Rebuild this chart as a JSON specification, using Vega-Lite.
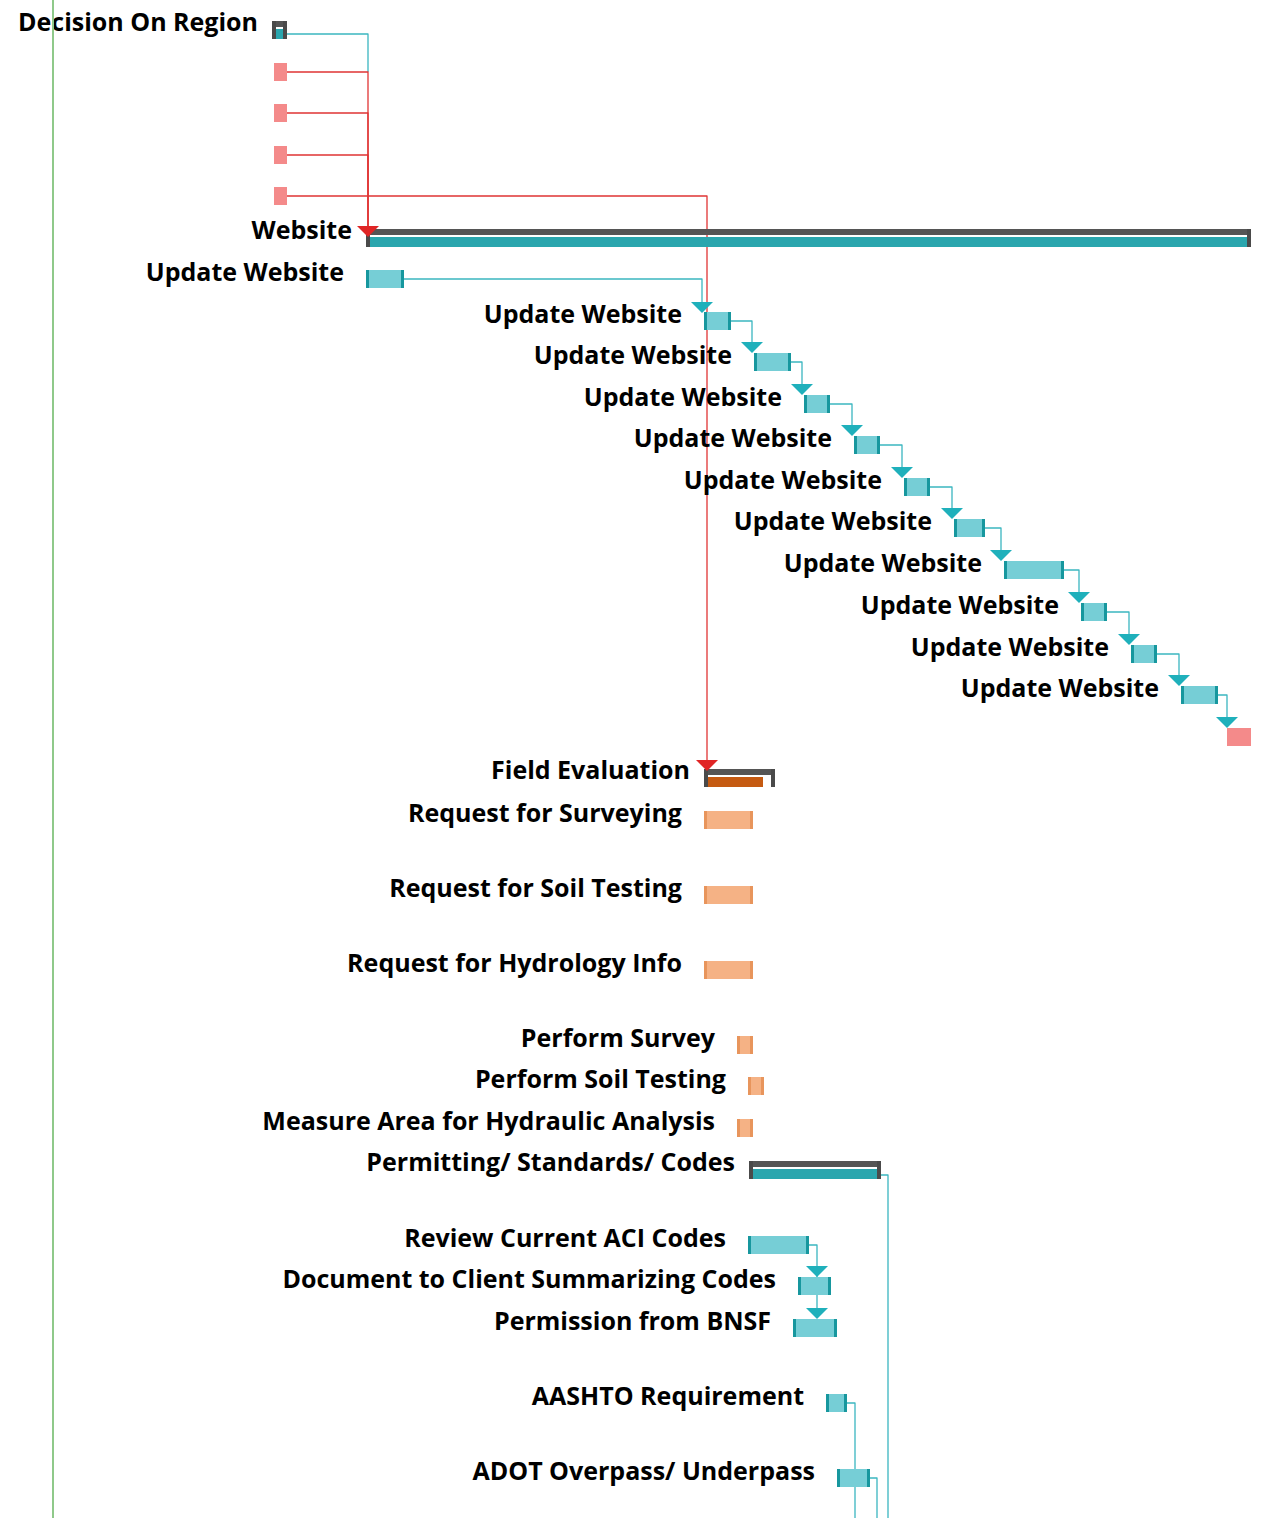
{
  "$schema": "https://vega.github.io/schema/vega-lite/v6.json",
  "width": 1276,
  "height": 1518,
  "autosize": "none",
  "padding": 0,
  "background": "white",
  "config": {"view": {"stroke": null}},
  "resolve": {"scale": {"color": "independent"}},
  "datasets": {
    "tasks": [
      {"name": "Update Website", "start": 366, "end": 404, "y": 279, "group": "teal"},
      {"name": "Update Website", "start": 704, "end": 731, "y": 321, "group": "teal"},
      {"name": "Update Website", "start": 754, "end": 791, "y": 362, "group": "teal"},
      {"name": "Update Website", "start": 804, "end": 830, "y": 404, "group": "teal"},
      {"name": "Update Website", "start": 854, "end": 880, "y": 445, "group": "teal"},
      {"name": "Update Website", "start": 904, "end": 930, "y": 487, "group": "teal"},
      {"name": "Update Website", "start": 954, "end": 985, "y": 528, "group": "teal"},
      {"name": "Update Website", "start": 1004, "end": 1064, "y": 570, "group": "teal"},
      {"name": "Update Website", "start": 1081, "end": 1107, "y": 612, "group": "teal"},
      {"name": "Update Website", "start": 1131, "end": 1157, "y": 654, "group": "teal"},
      {"name": "Update Website", "start": 1181, "end": 1218, "y": 695, "group": "teal"},
      {"name": "Request for Surveying", "start": 704, "end": 753, "y": 820, "group": "orange"},
      {"name": "Request for Soil Testing", "start": 704, "end": 753, "y": 895, "group": "orange"},
      {"name": "Request for Hydrology Info", "start": 704, "end": 753, "y": 970, "group": "orange"},
      {"name": "Perform Survey", "start": 737, "end": 753, "y": 1045, "group": "orange"},
      {"name": "Perform Soil Testing", "start": 748, "end": 764, "y": 1086, "group": "orange"},
      {"name": "Measure Area for Hydraulic Analysis", "start": 737, "end": 753, "y": 1128, "group": "orange"},
      {"name": "Review Current ACI Codes", "start": 748, "end": 809, "y": 1245, "group": "teal"},
      {"name": "Document to Client Summarizing Codes", "start": 798, "end": 831, "y": 1286, "group": "teal"},
      {"name": "Permission from BNSF", "start": 793, "end": 837, "y": 1328, "group": "teal"},
      {"name": "AASHTO Requirement", "start": 826, "end": 847, "y": 1403, "group": "teal"},
      {"name": "ADOT Overpass/ Underpass", "start": 837, "end": 870, "y": 1478, "group": "teal"}
    ],
    "summaries": [
      {"name": "Decision On Region", "start": 272, "end": 287, "fillEnd": 285, "y": 30, "group": "teal"},
      {"name": "Website", "start": 366, "end": 1251, "fillEnd": 1249, "y": 238, "group": "teal"},
      {"name": "Field Evaluation", "start": 704, "end": 775, "fillEnd": 763, "y": 778, "group": "orange"},
      {"name": "Permitting/ Standards/ Codes", "start": 749, "end": 881, "fillEnd": 879, "y": 1170, "group": "teal"}
    ],
    "milestones": [
      {"start": 274, "end": 287, "y": 72},
      {"start": 274, "end": 287, "y": 113},
      {"start": 274, "end": 287, "y": 155},
      {"start": 274, "end": 287, "y": 196},
      {"start": 1227, "end": 1251, "y": 737}
    ],
    "links": [
      {"id": "dec", "kind": "teal", "seq": 1, "x": 287, "y": 34},
      {"id": "dec", "kind": "teal", "seq": 2, "x": 368, "y": 34},
      {"id": "dec", "kind": "teal", "seq": 3, "x": 368, "y": 72},
      {"id": "m1", "kind": "red", "seq": 1, "x": 287, "y": 72},
      {"id": "m1", "kind": "red", "seq": 2, "x": 368, "y": 72},
      {"id": "m1", "kind": "red", "seq": 3, "x": 368, "y": 228},
      {"id": "m2", "kind": "red", "seq": 1, "x": 287, "y": 113},
      {"id": "m2", "kind": "red", "seq": 2, "x": 368, "y": 113},
      {"id": "m2", "kind": "red", "seq": 3, "x": 368, "y": 228},
      {"id": "m3", "kind": "red", "seq": 1, "x": 287, "y": 155},
      {"id": "m3", "kind": "red", "seq": 2, "x": 368, "y": 155},
      {"id": "m3", "kind": "red", "seq": 3, "x": 368, "y": 228},
      {"id": "m4", "kind": "red", "seq": 1, "x": 287, "y": 196},
      {"id": "m4", "kind": "red", "seq": 2, "x": 707, "y": 196},
      {"id": "m4", "kind": "red", "seq": 3, "x": 707, "y": 762},
      {"id": "b0", "kind": "teal", "seq": 1, "x": 404, "y": 279},
      {"id": "b0", "kind": "teal", "seq": 2, "x": 702, "y": 279},
      {"id": "b0", "kind": "teal", "seq": 3, "x": 702, "y": 304},
      {"id": "b1", "kind": "teal", "seq": 1, "x": 731, "y": 321},
      {"id": "b1", "kind": "teal", "seq": 2, "x": 752, "y": 321},
      {"id": "b1", "kind": "teal", "seq": 3, "x": 752, "y": 344},
      {"id": "b2", "kind": "teal", "seq": 1, "x": 791, "y": 362},
      {"id": "b2", "kind": "teal", "seq": 2, "x": 802, "y": 362},
      {"id": "b2", "kind": "teal", "seq": 3, "x": 802, "y": 386},
      {"id": "b3", "kind": "teal", "seq": 1, "x": 830, "y": 404},
      {"id": "b3", "kind": "teal", "seq": 2, "x": 852, "y": 404},
      {"id": "b3", "kind": "teal", "seq": 3, "x": 852, "y": 427},
      {"id": "b4", "kind": "teal", "seq": 1, "x": 880, "y": 445},
      {"id": "b4", "kind": "teal", "seq": 2, "x": 902, "y": 445},
      {"id": "b4", "kind": "teal", "seq": 3, "x": 902, "y": 469},
      {"id": "b5", "kind": "teal", "seq": 1, "x": 930, "y": 487},
      {"id": "b5", "kind": "teal", "seq": 2, "x": 952, "y": 487},
      {"id": "b5", "kind": "teal", "seq": 3, "x": 952, "y": 510},
      {"id": "b6", "kind": "teal", "seq": 1, "x": 985, "y": 528},
      {"id": "b6", "kind": "teal", "seq": 2, "x": 1001, "y": 528},
      {"id": "b6", "kind": "teal", "seq": 3, "x": 1001, "y": 552},
      {"id": "b7", "kind": "teal", "seq": 1, "x": 1064, "y": 570},
      {"id": "b7", "kind": "teal", "seq": 2, "x": 1079, "y": 570},
      {"id": "b7", "kind": "teal", "seq": 3, "x": 1079, "y": 594},
      {"id": "b8", "kind": "teal", "seq": 1, "x": 1107, "y": 612},
      {"id": "b8", "kind": "teal", "seq": 2, "x": 1129, "y": 612},
      {"id": "b8", "kind": "teal", "seq": 3, "x": 1129, "y": 636},
      {"id": "b9", "kind": "teal", "seq": 1, "x": 1157, "y": 654},
      {"id": "b9", "kind": "teal", "seq": 2, "x": 1179, "y": 654},
      {"id": "b9", "kind": "teal", "seq": 3, "x": 1179, "y": 677},
      {"id": "b10", "kind": "teal", "seq": 1, "x": 1218, "y": 695},
      {"id": "b10", "kind": "teal", "seq": 2, "x": 1227, "y": 695},
      {"id": "b10", "kind": "teal", "seq": 3, "x": 1227, "y": 718},
      {"id": "perm", "kind": "teal", "seq": 1, "x": 881, "y": 1175},
      {"id": "perm", "kind": "teal", "seq": 2, "x": 888, "y": 1175},
      {"id": "perm", "kind": "teal", "seq": 3, "x": 888, "y": 1518},
      {"id": "rev", "kind": "teal", "seq": 1, "x": 809, "y": 1245},
      {"id": "rev", "kind": "teal", "seq": 2, "x": 817, "y": 1245},
      {"id": "rev", "kind": "teal", "seq": 3, "x": 817, "y": 1310},
      {"id": "aash", "kind": "teal", "seq": 1, "x": 847, "y": 1403},
      {"id": "aash", "kind": "teal", "seq": 2, "x": 855, "y": 1403},
      {"id": "aash", "kind": "teal", "seq": 3, "x": 855, "y": 1518},
      {"id": "adot", "kind": "teal", "seq": 1, "x": 870, "y": 1478},
      {"id": "adot", "kind": "teal", "seq": 2, "x": 877, "y": 1478},
      {"id": "adot", "kind": "teal", "seq": 3, "x": 877, "y": 1518}
    ],
    "arrows": [
      {"x": 368, "y": 237, "kind": "red"},
      {"x": 707, "y": 771, "kind": "red"},
      {"x": 702, "y": 313, "kind": "teal"},
      {"x": 752, "y": 353, "kind": "teal"},
      {"x": 802, "y": 395, "kind": "teal"},
      {"x": 852, "y": 436, "kind": "teal"},
      {"x": 902, "y": 478, "kind": "teal"},
      {"x": 952, "y": 519, "kind": "teal"},
      {"x": 1001, "y": 561, "kind": "teal"},
      {"x": 1079, "y": 603, "kind": "teal"},
      {"x": 1129, "y": 645, "kind": "teal"},
      {"x": 1179, "y": 686, "kind": "teal"},
      {"x": 1227, "y": 728, "kind": "teal"},
      {"x": 817, "y": 1277, "kind": "teal"},
      {"x": 817, "y": 1319, "kind": "teal"}
    ],
    "markers": [{"label": "Project start", "x": 53}]
  },
  "layer": [
    {
      "data": {"name": "links"},
      "mark": {"type": "line", "strokeWidth": 1.3, "strokeJoin": "round", "interpolate": "linear"},
      "encoding": {
        "x": {"field": "x", "type": "quantitative", "scale": {"domain": [0, 1276], "nice": false, "zero": false}, "axis": null},
        "y": {"field": "y", "type": "quantitative", "scale": {"domain": [0, 1518], "reverse": true, "nice": false, "zero": false}, "axis": null},
        "detail": {"field": "id"},
        "order": {"field": "seq"},
        "color": {"field": "kind", "type": "nominal", "scale": {"domain": ["teal", "red"], "range": ["#3bb6c0", "#e03535"]}, "legend": null}
      }
    },
    {
      "data": {"name": "summaries"},
      "mark": {"type": "rule", "strokeWidth": 6, "strokeCap": "butt", "color": "#555555", "yOffset": -6},
      "encoding": {
        "x": {"field": "start", "type": "quantitative"},
        "x2": {"field": "end"},
        "y": {"field": "y", "type": "quantitative"}
      }
    },
    {
      "data": {"name": "summaries"},
      "mark": {"type": "rule", "strokeWidth": 10, "strokeCap": "butt", "yOffset": 4},
      "encoding": {
        "x": {"field": "start", "type": "quantitative"},
        "x2": {"field": "fillEnd"},
        "y": {"field": "y", "type": "quantitative"},
        "color": {"field": "group", "type": "nominal", "scale": {"domain": ["teal", "orange"], "range": ["#2aa6ae", "#c55a11"]}, "legend": null}
      }
    },
    {
      "data": {"name": "summaries"},
      "mark": {"type": "tick", "orient": "vertical", "thickness": 4, "size": 18, "xOffset": 2, "color": "#4a4a4a", "opacity": 1},
      "encoding": {
        "x": {"field": "start", "type": "quantitative"},
        "y": {"field": "y", "type": "quantitative"}
      }
    },
    {
      "data": {"name": "summaries"},
      "mark": {"type": "tick", "orient": "vertical", "thickness": 4, "size": 18, "xOffset": -2, "color": "#4a4a4a", "opacity": 1},
      "encoding": {
        "x": {"field": "end", "type": "quantitative"},
        "y": {"field": "y", "type": "quantitative"}
      }
    },
    {
      "data": {"name": "tasks"},
      "mark": {"type": "rule", "strokeWidth": 18, "strokeCap": "butt"},
      "encoding": {
        "x": {"field": "start", "type": "quantitative"},
        "x2": {"field": "end"},
        "y": {"field": "y", "type": "quantitative"},
        "color": {"field": "group", "type": "nominal", "scale": {"domain": ["teal", "orange"], "range": ["#76ced6", "#f5b285"]}, "legend": null}
      }
    },
    {
      "data": {"name": "tasks"},
      "mark": {"type": "tick", "orient": "vertical", "thickness": 3, "size": 18, "xOffset": 1.5, "opacity": 1},
      "encoding": {
        "x": {"field": "start", "type": "quantitative"},
        "y": {"field": "y", "type": "quantitative"},
        "color": {"field": "group", "type": "nominal", "scale": {"domain": ["teal", "orange"], "range": ["#17979e", "#e8955c"]}, "legend": null}
      }
    },
    {
      "data": {"name": "tasks"},
      "mark": {"type": "tick", "orient": "vertical", "thickness": 3, "size": 18, "xOffset": -1.5, "opacity": 1},
      "encoding": {
        "x": {"field": "end", "type": "quantitative"},
        "y": {"field": "y", "type": "quantitative"},
        "color": {"field": "group", "type": "nominal", "scale": {"domain": ["teal", "orange"], "range": ["#17979e", "#e8955c"]}, "legend": null}
      }
    },
    {
      "data": {"name": "milestones"},
      "mark": {"type": "rule", "strokeWidth": 18, "strokeCap": "butt", "color": "#f48a8a"},
      "encoding": {
        "x": {"field": "start", "type": "quantitative"},
        "x2": {"field": "end"},
        "y": {"field": "y", "type": "quantitative"}
      }
    },
    {
      "data": {"name": "arrows"},
      "mark": {"type": "point", "shape": "M-1,-1L1,-1L0,0Z", "filled": true, "size": 484, "opacity": 1, "strokeWidth": 0},
      "encoding": {
        "x": {"field": "x", "type": "quantitative"},
        "y": {"field": "y", "type": "quantitative"},
        "color": {"field": "kind", "type": "nominal", "scale": {"domain": ["teal", "red"], "range": ["#1fb0bb", "#e02525"]}, "legend": null}
      }
    },
    {
      "data": {"name": "tasks"},
      "mark": {"type": "text", "align": "right", "baseline": "middle", "dx": -22, "dy": -6, "font": "Open Sans", "fontWeight": "bold", "fontSize": 25, "color": "#000000"},
      "encoding": {
        "x": {"field": "start", "type": "quantitative"},
        "y": {"field": "y", "type": "quantitative"},
        "text": {"field": "name"}
      }
    },
    {
      "data": {"name": "summaries"},
      "mark": {"type": "text", "align": "right", "baseline": "middle", "dx": -14, "dy": -7, "font": "Open Sans", "fontWeight": "bold", "fontSize": 25, "color": "#000000"},
      "encoding": {
        "x": {"field": "start", "type": "quantitative"},
        "y": {"field": "y", "type": "quantitative"},
        "text": {"field": "name"}
      }
    },
    {
      "data": {"name": "markers"},
      "mark": {"type": "rule", "strokeWidth": 2, "color": "#8fc98a"},
      "encoding": {
        "x": {"field": "x", "type": "quantitative"}
      }
    }
  ]
}
